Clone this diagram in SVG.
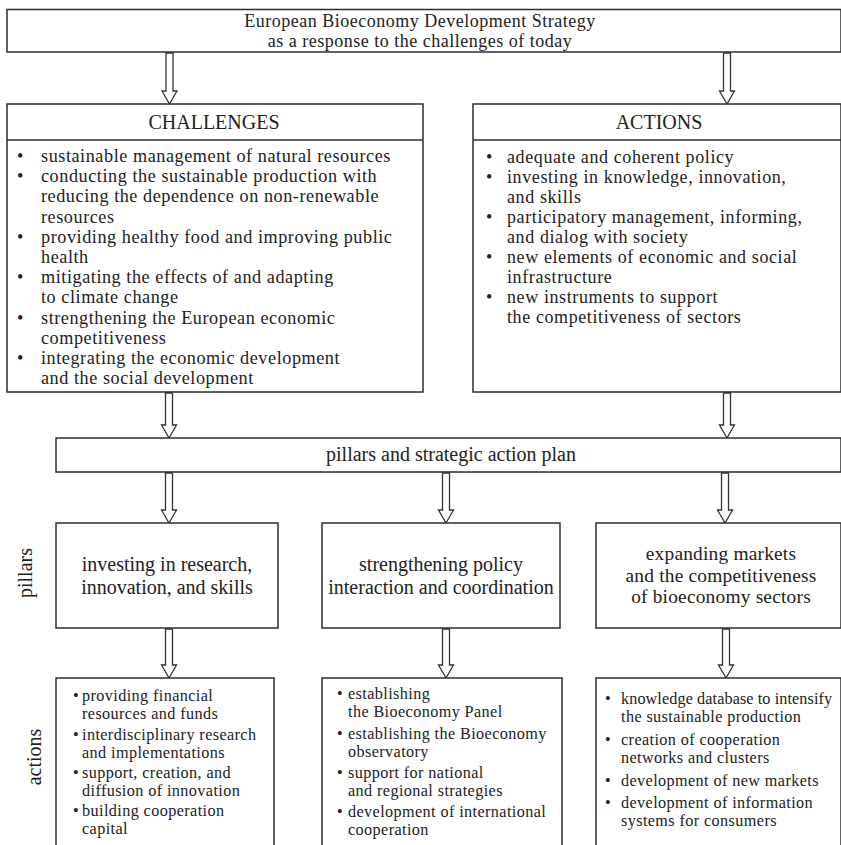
<svg xmlns="http://www.w3.org/2000/svg" width="841" height="845" viewBox="0 0 841 845">
<style>
.box{fill:#fff;stroke:#2e2e2e;stroke-width:1.5}
.arr{fill:#fff;stroke:#333;stroke-width:1.3;stroke-linejoin:miter}
text{font-family:"Liberation Serif","Times New Roman",serif;fill:#222}
.t20{font-size:20px}
.tt{font-size:18px;letter-spacing:0.5px}
.tb{font-size:18.2px;letter-spacing:0.55px}
.ta{font-size:18px;letter-spacing:0.6px}
.tp{font-size:19.4px;letter-spacing:0.2px}
.ts{font-size:16.2px;letter-spacing:0.4px}
.c{text-anchor:middle}
</style>
<rect width="841" height="845" fill="#fff"/>

<g id="connectors">
<polygon class="arr" points="166,53 173,53 173,91 177,91 169.5,104 162,91 166,91"/>
<polygon class="arr" points="723.5,53 730.5,53 730.5,91 734.5,91 727,104 719.5,91 723.5,91"/>
<polygon class="arr" points="165.5,393 172.5,393 172.5,425 176.5,425 169,438 161.5,425 165.5,425"/>
<polygon class="arr" points="723.5,393 730.5,393 730.5,425 734.5,425 727,438 719.5,425 723.5,425"/>
<polygon class="arr" points="165.5,473 172.5,473 172.5,510 176.5,510 169,523 161.5,510 165.5,510"/>
<polygon class="arr" points="442.5,473 449.5,473 449.5,510 453.5,510 446,523 438.5,510 442.5,510"/>
<polygon class="arr" points="721.5,473 728.5,473 728.5,510 732.5,510 725,523 717.5,510 721.5,510"/>
<polygon class="arr" points="165.5,629 172.5,629 172.5,665 176.5,665 169,678 161.5,665 165.5,665"/>
<polygon class="arr" points="442.5,629 449.5,629 449.5,665 453.5,665 446,678 438.5,665 442.5,665"/>
<polygon class="arr" points="722.5,629 729.5,629 729.5,665 733.5,665 726,678 718.5,665 722.5,665"/>
</g>

<g id="strategy">
<rect class="box" x="7" y="9.5" width="834" height="42.5"/>
<text class="tt c" x="420" y="27">European Bioeconomy Development Strategy</text>
<text class="tt c" x="420" y="47">as a response to the challenges of today</text>
</g>

<g id="challenges">
<rect class="box" x="7" y="104" width="416" height="288"/>
<line x1="7" y1="140" x2="423" y2="140" stroke="#2e2e2e" stroke-width="1.5"/>
<text class="t20 c" x="214" y="129">CHALLENGES</text>
<g class="tb">
<text x="17" y="162">•</text><text x="41" y="162">sustainable management of natural resources</text>
<text x="17" y="182.2">•</text><text x="41" y="182.2">conducting the sustainable production with</text>
<text x="41" y="202.4">reducing the dependence on non-renewable</text>
<text x="41" y="222.6">resources</text>
<text x="17" y="242.8">•</text><text x="41" y="242.8">providing healthy food and improving public</text>
<text x="41" y="263">health</text>
<text x="17" y="283.2">•</text><text x="41" y="283.2">mitigating the effects of and adapting</text>
<text x="41" y="303.4">to climate change</text>
<text x="17" y="323.6">•</text><text x="41" y="323.6">strengthening the European economic</text>
<text x="41" y="343.8">competitiveness</text>
<text x="17" y="364">•</text><text x="41" y="364">integrating the economic development</text>
<text x="41" y="384.2">and the social development</text>
</g>
</g>

<g id="actions">
<rect class="box" x="473" y="104" width="368" height="288"/>
<line x1="473" y1="140" x2="841" y2="140" stroke="#2e2e2e" stroke-width="1.5"/>
<text class="t20 c" x="659" y="129">ACTIONS</text>
<g class="ta">
<text x="486" y="163">•</text><text x="507" y="163">adequate and coherent policy</text>
<text x="486" y="183">•</text><text x="507" y="183">investing in knowledge, innovation,</text>
<text x="507" y="203">and skills</text>
<text x="486" y="223">•</text><text x="507" y="223">participatory management, informing,</text>
<text x="507" y="243">and dialog with society</text>
<text x="486" y="263">•</text><text x="507" y="263">new elements of economic and social</text>
<text x="507" y="283">infrastructure</text>
<text x="486" y="303">•</text><text x="507" y="303">new instruments to support</text>
<text x="507" y="323">the competitiveness of sectors</text>
</g>
</g>

<g id="plan">
<rect class="box" x="56" y="438" width="785" height="34"/>
<text class="t20 c" x="451" y="461">pillars and strategic action plan</text>
</g>

<g id="label-pillars">
<text class="t20 c" transform="translate(32,573) rotate(-90)">pillars</text>
</g>
<g id="label-actions">
<text class="t20 c" transform="translate(41,757) rotate(-90)">actions</text>
</g>

<g id="pillar-research">
<rect class="box" x="56" y="523" width="222" height="105"/>
<text class="t20 c" x="167" y="571">investing in research,</text>
<text class="t20 c" x="167" y="593.5">innovation, and skills</text>
</g>
<g id="pillar-policy">
<rect class="box" x="322" y="523" width="238" height="105"/>
<text class="t20 c" x="441" y="571">strengthening policy</text>
<text class="t20 c" x="441" y="593.5">interaction and coordination</text>
</g>
<g id="pillar-markets">
<rect class="box" x="596" y="523" width="245" height="105"/>
<text class="tp c" x="721" y="560">expanding markets</text>
<text class="tp c" x="721" y="581.5">and the competitiveness</text>
<text class="tp c" x="721" y="603">of bioeconomy sectors</text>
</g>

<g id="actions-research">
<rect class="box" x="56" y="678" width="218" height="180"/>
<g class="ts">
<text x="73" y="701">•</text><text x="82" y="701">providing financial</text>
<text x="82" y="719">resources and funds</text>
<text x="73" y="740">•</text><text x="82" y="740">interdisciplinary research</text>
<text x="82" y="758">and implementations</text>
<text x="73" y="778">•</text><text x="82" y="778">support, creation, and</text>
<text x="82" y="796">diffusion of innovation</text>
<text x="73" y="816">•</text><text x="82" y="816">building cooperation</text>
<text x="82" y="834">capital</text>
</g>
</g>
<g id="actions-policy">
<rect class="box" x="322" y="678" width="240" height="180"/>
<g class="ts">
<text x="337" y="699">•</text><text x="348" y="699">establishing</text>
<text x="348" y="717">the Bioeconomy Panel</text>
<text x="337" y="739">•</text><text x="348" y="739">establishing the Bioeconomy</text>
<text x="348" y="757">observatory</text>
<text x="337" y="778">•</text><text x="348" y="778">support for national</text>
<text x="348" y="796">and regional strategies</text>
<text x="337" y="817">•</text><text x="348" y="817">development of international</text>
<text x="348" y="835">cooperation</text>
</g>
</g>
<g id="actions-markets">
<rect class="box" x="596" y="678" width="245" height="180"/>
<g class="ts">
<text x="605" y="704">•</text><text x="621" y="704" style="letter-spacing:0.1px">knowledge database to intensify</text>
<text x="621" y="722">the sustainable production</text>
<text x="605" y="745">•</text><text x="621" y="745">creation of cooperation</text>
<text x="621" y="763">networks and clusters</text>
<text x="605" y="786">•</text><text x="621" y="786">development of new markets</text>
<text x="605" y="808">•</text><text x="621" y="808">development of information</text>
<text x="621" y="826">systems for consumers</text>
</g>
</g>
</svg>
